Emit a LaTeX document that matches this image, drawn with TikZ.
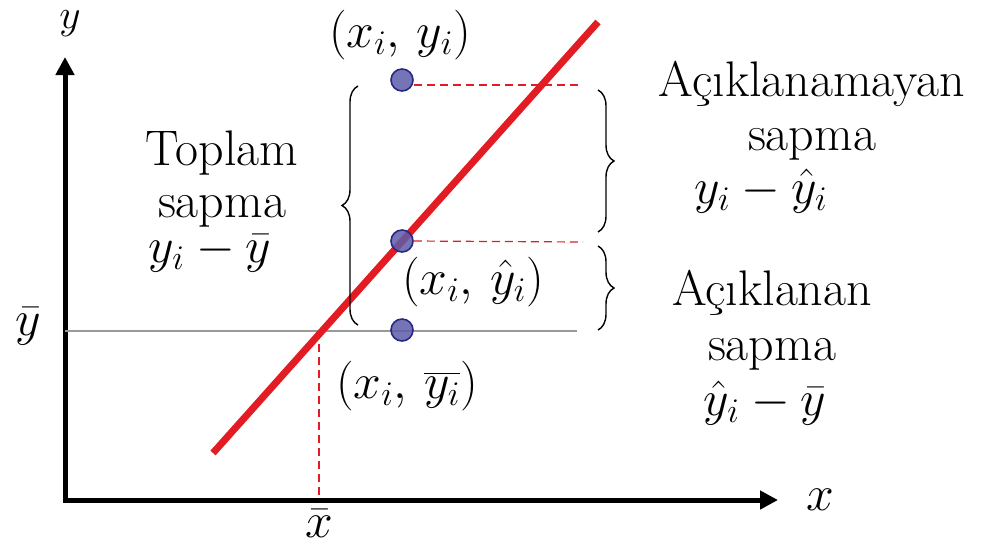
\documentclass[tikz,border=0pt]{standalone}
\usetikzlibrary{positioning,arrows.meta,decorations.pathreplacing}
\definecolor{regred}{RGB}{227,27,35}
\definecolor{ptfill}{RGB}{92,92,170}
\definecolor{ptdraw}{RGB}{40,40,130}

\begin{document}
\begin{tikzpicture}[
    x=0.5pt, y=-0.5pt,
    every node/.style={font=\fontsize{25}{28}\selectfont, inner sep=0pt},
    axis/.style={line width=2.5pt, {Triangle[length=9pt,width=9pt]}-{Triangle[length=9pt,width=9pt]}},
    regline/.style={line width=3.5pt, regred},
    meanline/.style={line width=0.7pt, black!40},
    resid/.style={line width=0.6pt, regred, dash pattern=on 4pt off 2.5pt},
    dot/.style={circle, minimum size=11pt, fill=ptfill, fill opacity=0.85, draw=ptdraw, line width=0.8pt},
    brace/.style={decorate, decoration={brace, amplitude=8pt}, line width=0.7pt},
    lbl/.style={anchor=base}
]
    % Axes
    \coordinate (ytip) at (65,57);
    \coordinate (xtip) at (778,500);
    \draw[axis] (ytip) |- (xtip);
    \node[lbl, font=\fontsize{22}{26}\selectfont] (ylab) at (70,28) {$y$};
    \node[lbl, font=\fontsize{30}{34}\selectfont] (xlab) at (820,510) {$x$};

    % Mean line and regression line
    \coordinate (g0) at (65,331);
    \coordinate (g1) at (577,331);
    \draw[meanline] (g0) -- (g1);
    \coordinate (r0) at (213,453);
    \coordinate (r1) at (598,22);
    \draw[regline] (r0) -- (r1);
    \node[lbl] (ybar) at (28,335) {$\bar{y}$};

    % x-bar drop
    \coordinate (xm) at (319,331);
    \coordinate (xb) at (319,500);
    \draw[resid] (xm) -- (xb);
    \node[lbl] (xbar) at (319,537) {$\bar{x}$};

    % Points
    \node[dot] (pt) at (402,80) {};
    \node[dot] (pm) at (402,241) {};
    \node[dot] (pb) at (402,330) {};
    \coordinate (dt) at (580,85);
    \coordinate (dm) at (583,242);
    \draw[resid] ([yshift=-2.5pt]pt.east) -- (dt);
    \draw[resid] (pm.east) -- (dm);

    % Point labels
    \node[lbl] (ptlab) at (400,47) {$(x_i,\, y_i)$};
    \node[lbl] (pmlab) at (473,294) {$(x_i,\, \hat{y}_i)$};
    \node[lbl] (pblab) at (407,398) {$(x_i,\, \overline{y_i})$};

    % Braces
    \coordinate (bl0) at (358,325);
    \coordinate (bl1) at (358,86);
    \draw[brace] (bl0) -- (bl1);
    \coordinate (bu0) at (598,90);
    \coordinate (bu1) at (598,232);
    \draw[brace] (bu0) -- (bu1);
    \coordinate (bd0) at (598,246);
    \coordinate (bd1) at (598,330);
    \draw[brace] (bd0) -- (bd1);

    % Deviation labels
    \node[lbl] (toplam) at (222,165) {Toplam};
    \node[lbl] (toplams) at (222,217) {sapma};
    \node[lbl] (toplamm) at (210,262) {$y_i - \bar{y}$};
    \node[lbl] (unexp) at (812,96) {Açıklanamayan};
    \node[lbl] (unexps) at (812,150) {sapma};
    \node[lbl] (unexpm) at (761,203) {$y_i - \hat{y}_i$};
    \node[lbl] (exp) at (772,305) {Açıklanan};
    \node[lbl] (exps) at (772,360) {sapma};
    \node[lbl] (expm) at (765,415) {$\hat{y}_i - \bar{y}$};

    \useasboundingbox (0,0) rectangle (988,548);
\end{tikzpicture}
\end{document}
